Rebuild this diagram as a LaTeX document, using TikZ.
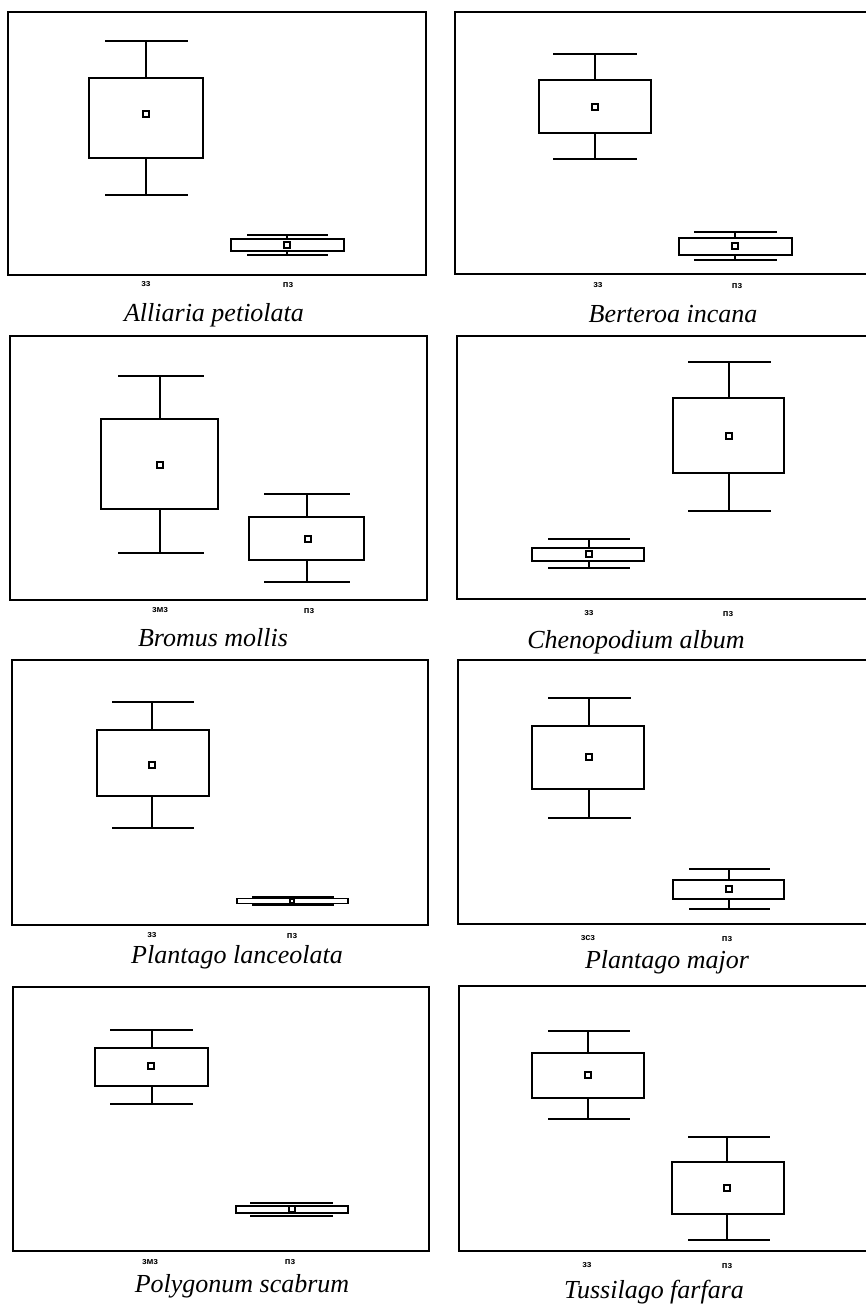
\documentclass[tikz,border=0pt]{standalone}
\usepackage{amsmath}
\usepackage{amssymb}
\usepackage{fontspec}
\setmainfont{Liberation Serif}
\newfontfamily\labfont{Liberation Sans}
\usepackage{tikz}

\begin{document}
\begin{tikzpicture}[x=0.75pt,y=0.75pt,yscale=-1,xscale=1,
  frame/.style={line width=1.2pt},
  box/.style={line width=1pt},
  whisk/.style={line width=1.4pt},
  mean/.style={draw,line width=1pt,fill=white,inner sep=0pt,minimum size=4.4pt},
  zone/.style={inner sep=0.75pt,font=\labfont\bfseries\fontsize{7}{8}\selectfont},
  species/.style={anchor=base,inner sep=0.75pt,font=\itshape\fontsize{19.5}{22}\selectfont}]
%set diagram left start at 0, and has height of 1307
\useasboundingbox (0,0) rectangle (866,1307);

%Shape: Rectangle [Alliaria petiolata]
\draw [frame] (8,12) rectangle (426,275);
%Box plot
\draw [box] (89,78) rectangle (203,158);
\draw [box] (146,78) -- (146,41) (146,158) -- (146,195);
\draw [whisk] (105,41) -- (188,41) (105,195) -- (188,195);
\node [mean] (m1a) at (146,114) {};
%Box plot
\draw [box] (231,239) rectangle (344,251);
\draw [box] (287,239) -- (287,235) (287,251) -- (287,255);
\draw [whisk] (247,235) -- (328,235) (247,255) -- (328,255);
\node [mean] (m1b) at (287,245) {};
% Text Node
\node [zone] (z1a) at (146,284) {зз};
\node [zone] (z1b) at (288,285) {пз};
\node [species] (s1) at (214,321) {Alliaria petiolata};

%Shape: Rectangle [Berteroa incana]
\draw [frame] (455,12) rectangle (872,274);
%Box plot
\draw [box] (539,80) rectangle (651,133);
\draw [box] (595,80) -- (595,54) (595,133) -- (595,159);
\draw [whisk] (553,54) -- (637,54) (553,159) -- (637,159);
\node [mean] (m2a) at (595,107) {};
%Box plot
\draw [box] (679,238) rectangle (792,255);
\draw [box] (735,238) -- (735,232) (735,255) -- (735,260);
\draw [whisk] (694,232) -- (777,232) (694,260) -- (777,260);
\node [mean] (m2b) at (735,246) {};
% Text Node
\node [zone] (z2a) at (598,285) {зз};
\node [zone] (z2b) at (737,286) {пз};
\node [species] (s2) at (673,322) {Berteroa incana};

%Shape: Rectangle [Bromus mollis]
\draw [frame] (10,336) rectangle (427,600);
%Box plot
\draw [box] (101,419) rectangle (218,509);
\draw [box] (160,419) -- (160,376) (160,509) -- (160,553);
\draw [whisk] (118,376) -- (204,376) (118,553) -- (204,553);
\node [mean] (m3a) at (160,465) {};
%Box plot
\draw [box] (249,517) rectangle (364,560);
\draw [box] (307,517) -- (307,494) (307,560) -- (307,582);
\draw [whisk] (264,494) -- (350,494) (264,582) -- (350,582);
\node [mean] (m3b) at (308,539) {};
% Text Node
\node [zone] (z3a) at (160,610) {змз};
\node [zone] (z3b) at (309,611) {пз};
\node [species] (s3) at (213,646) {Bromus mollis};

%Shape: Rectangle [Chenopodium album]
\draw [frame] (457,336) rectangle (872,599);
%Box plot
\draw [box] (532,548) rectangle (644,561);
\draw [box] (589,548) -- (589,539) (589,561) -- (589,568);
\draw [whisk] (548,539) -- (630,539) (548,568) -- (630,568);
\node [mean] (m4a) at (589,554) {};
%Box plot
\draw [box] (673,398) rectangle (784,473);
\draw [box] (729,398) -- (729,362) (729,473) -- (729,511);
\draw [whisk] (688,362) -- (771,362) (688,511) -- (771,511);
\node [mean] (m4b) at (729,436) {};
% Text Node
\node [zone] (z4a) at (589,613) {зз};
\node [zone] (z4b) at (728,614) {пз};
\node [species] (s4) at (636,648) {Chenopodium album};

%Shape: Rectangle [Plantago lanceolata]
\draw [frame] (12,660) rectangle (428,925);
%Box plot
\draw [box] (237,898.5) rectangle (348,903.5);
\draw [whisk] (252,897) -- (334,897) (252,905) -- (334,905);
\node [mean,minimum size=3pt] (m5b) at (292,901) {};
%Box plot
\draw [box] (97,730) rectangle (209,796);
\draw [box] (152,730) -- (152,702) (152,796) -- (152,828);
\draw [whisk] (112,702) -- (194,702) (112,828) -- (194,828);
\node [mean] (m5a) at (152,765) {};
% Text Node
\node [zone] (z5a) at (152,935) {зз};
\node [zone] (z5b) at (292,936) {пз};
\node [species] (s5) at (237,963) {Plantago lanceolata};

%Shape: Rectangle [Plantago major]
\draw [frame] (458,660) rectangle (872,924);
%Box plot
\draw [box] (532,726) rectangle (644,789);
\draw [box] (589,726) -- (589,698) (589,789) -- (589,818);
\draw [whisk] (548,698) -- (631,698) (548,818) -- (631,818);
\node [mean] (m6a) at (589,757) {};
%Box plot
\draw [box] (673,880) rectangle (784,899);
\draw [box] (729,880) -- (729,869) (729,899) -- (729,909);
\draw [whisk] (689,869) -- (770,869) (689,909) -- (770,909);
\node [mean] (m6b) at (729,889) {};
% Text Node
\node [zone] (z6a) at (588,938) {зсз};
\node [zone] (z6b) at (727,939) {пз};
\node [species] (s6) at (667,968) {Plantago major};

%Shape: Rectangle [Polygonum scabrum]
\draw [frame] (13,987) rectangle (429,1251);
%Box plot
\draw [box] (95,1048) rectangle (208,1086);
\draw [box] (152,1048) -- (152,1030) (152,1086) -- (152,1104);
\draw [whisk] (110,1030) -- (193,1030) (110,1104) -- (193,1104);
\node [mean] (m7a) at (151,1066) {};
%Box plot
\draw [box] (236,1206) rectangle (348,1213);
\draw [whisk] (250,1203) -- (333,1203) (250,1216) -- (333,1216);
\node [mean] (m7b) at (292,1209) {};
% Text Node
\node [zone] (z7a) at (150,1262) {змз};
\node [zone] (z7b) at (290,1262) {пз};
\node [species] (s7) at (242,1292) {Polygonum scabrum};

%Shape: Rectangle [Tussilago farfara]
\draw [frame] (459,986) rectangle (872,1251);
%Box plot
\draw [box] (532,1053) rectangle (644,1098);
\draw [box] (588,1053) -- (588,1031) (588,1098) -- (588,1119);
\draw [whisk] (548,1031) -- (630,1031) (548,1119) -- (630,1119);
\node [mean] (m8a) at (588,1075) {};
%Box plot
\draw [box] (672,1162) rectangle (784,1214);
\draw [box] (727,1162) -- (727,1137) (727,1214) -- (727,1240);
\draw [whisk] (688,1137) -- (770,1137) (688,1240) -- (770,1240);
\node [mean] (m8b) at (727,1188) {};
% Text Node
\node [zone] (z8a) at (587,1265) {зз};
\node [zone] (z8b) at (727,1266) {пз};
\node [species] (s8) at (654,1298) {Tussilago farfara};

\end{tikzpicture}
\end{document}
